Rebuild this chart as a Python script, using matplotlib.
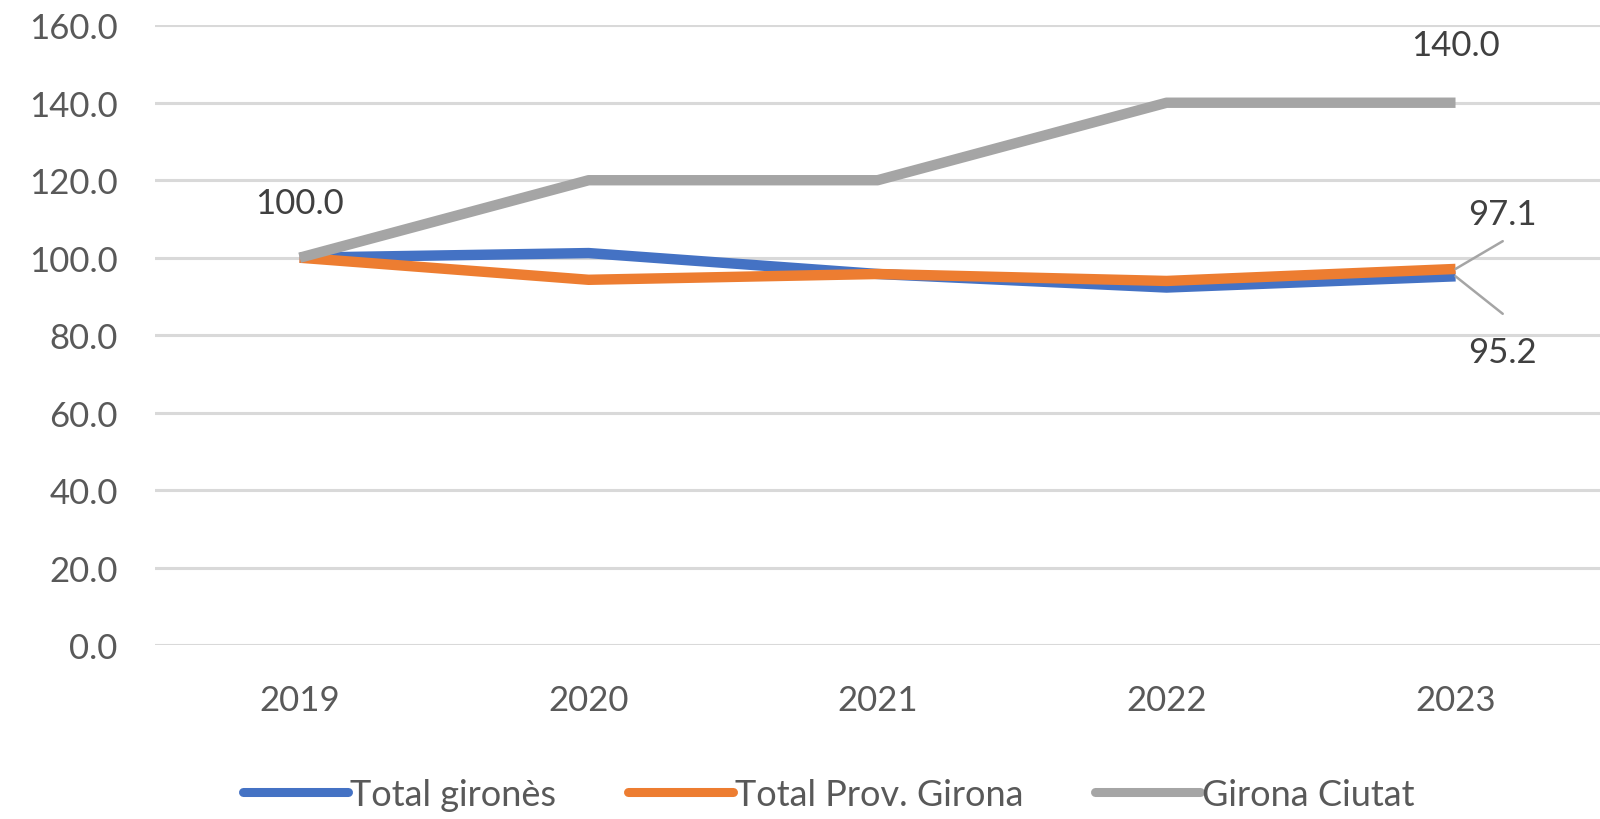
import matplotlib.pyplot as plt
import numpy as np

plt.rcParams['font.family'] = ['Lato', 'DejaVu Sans']

# Dades (índex base 2019 = 100)
anys = ['2019', '2020', '2021', '2022', '2023']
total_girones = [100.0, 101.2, 95.8, 92.3, 95.2]
total_prov = [100.0, 94.3, 95.8, 94.0, 97.1]
girona_ciutat = [100.0, 120.0, 120.0, 140.0, 140.0]

noms = ['Total gironès', 'Total Prov. Girona', 'Girona Ciutat']
colors = ['#4472C4', '#ED7D31', '#A5A5A5']

fig = plt.figure(figsize=(16, 8.2), dpi=100)
ax = fig.add_axes([0.097, 0.212, 0.903, 0.756])

x = np.arange(len(anys))
for serie, nom, c in zip([total_girones, total_prov, girona_ciutat], noms, colors):
    ax.plot(x, serie, color=c, linewidth=7.5, label=nom,
            solid_joinstyle='round', solid_capstyle='butt')

ax.set_xlim(-0.5, 4.5)
ax.set_ylim(0, 160)
ax.set_yticks(np.arange(0, 161, 20))
ax.yaxis.set_major_formatter(plt.FuncFormatter(lambda v, p: f'{v:.1f}'))
ax.set_xticks(x)
ax.set_xticklabels(anys)
ax.tick_params(axis='both', length=0, labelsize=25, labelcolor='#595959')
ax.tick_params(axis='x', pad=28)
ax.tick_params(axis='y', pad=27)
ax.grid(axis='y', color='#D9D9D9', linewidth=2.2)
ax.set_axisbelow(True)
for s in ax.spines.values():
    s.set_visible(False)

# Etiquetes de dades
ax.annotate(f'{girona_ciutat[0]:.1f}', (x[0], girona_ciutat[0]), xytext=(0, 28),
            textcoords='offset points', ha='center', va='bottom',
            fontsize=25, color='#404040')
ax.annotate(f'{girona_ciutat[-1]:.1f}', (x[-1], girona_ciutat[-1]), xytext=(0, 30),
            textcoords='offset points', ha='center', va='bottom',
            fontsize=25, color='#404040')

leader = dict(color='#A5A5A5', lw=1.8)
# 97.1 (Total Prov. Girona)
ax.annotate('', (x[-1], total_prov[-1]), xytext=(34, 20), textcoords='offset points',
            arrowprops=dict(arrowstyle='-', shrinkA=0, shrinkB=0, **leader))
ax.annotate(f'{total_prov[-1]:.1f}', (x[-1], total_prov[-1]), xytext=(34, 28),
            textcoords='offset points', ha='center', va='bottom',
            fontsize=25, color='#404040')
# 95.2 (Total gironès)
ax.annotate('', (x[-1], total_girones[-1]), xytext=(34, -27), textcoords='offset points',
            arrowprops=dict(arrowstyle='-', shrinkA=0, shrinkB=0, **leader))
ax.annotate(f'{total_girones[-1]:.1f}', (x[-1], total_girones[-1]), xytext=(34, -43),
            textcoords='offset points', ha='center', va='top',
            fontsize=25, color='#404040')

leg = fig.legend(loc='lower center', bbox_to_anchor=(0.518, -0.03), ncol=3, frameon=False,
                 fontsize=26, labelcolor='#595959', handlelength=2.9, handletextpad=0.05,
                 columnspacing=2.0)
for h in leg.get_lines():
    h.set_linewidth(6.5)
    h.set_solid_capstyle('round')

plt.savefig('out.png', dpi=100)
